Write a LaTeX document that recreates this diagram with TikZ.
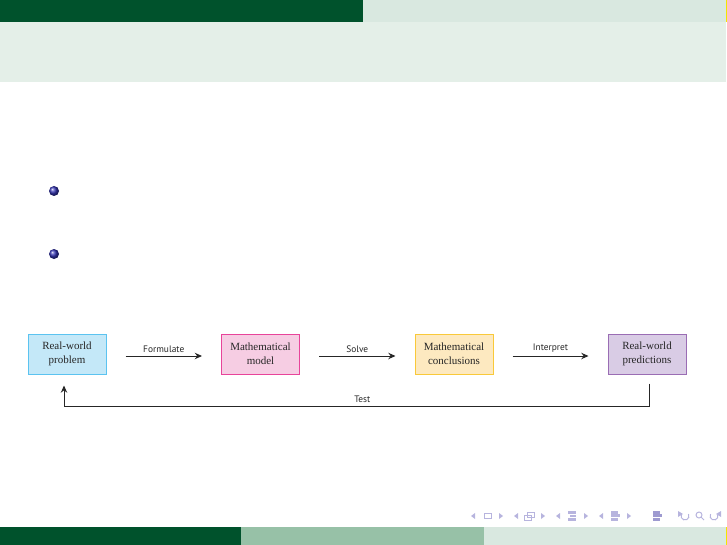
\documentclass[tikz,border=0pt]{standalone}
\usepackage{fontspec}
\setmainfont{Liberation Serif}
\newfontfamily\labelfont{PT Sans}
\usetikzlibrary{arrows.meta,shadings}
\definecolor{dgreen}{HTML}{00522C}
\definecolor{lgreen}{HTML}{D9E8E0}
\definecolor{band}{HTML}{E4EFE8}
\definecolor{mgreen}{HTML}{97C1A7}
\definecolor{stripe}{HTML}{F2E600}
\definecolor{b1fill}{HTML}{C4E8F8}\definecolor{b1line}{HTML}{5BC3F0}
\definecolor{b2fill}{HTML}{F6CDE3}\definecolor{b2line}{HTML}{E8449A}
\definecolor{b3fill}{HTML}{FDE9C0}\definecolor{b3line}{HTML}{F9C93A}
\definecolor{b4fill}{HTML}{D9CCE5}\definecolor{b4line}{HTML}{9A6DB4}
\definecolor{inkc}{HTML}{262626}
\definecolor{navc}{HTML}{B7B4DE}
\definecolor{navd}{HTML}{9E9AD0}
\begin{document}
\begin{tikzpicture}[x=0.5pt,y=-0.5pt,
  box/.style={draw, line width=0.5pt, minimum width=39pt, minimum height=20pt,
    inner sep=0pt, align=center, text=inkc, font=\fontsize{5.5}{7}\selectfont},
  flow/.style={-{Stealth[length=3.6pt,width=3.2pt]}, line width=0.5pt, draw=inkc,
    shorten <=9.5pt, shorten >=9.5pt},
  lab/.style={font=\labelfont\fontsize{4.7}{5}\selectfont, text=inkc, above, inner sep=1.6pt},
  nav/.style={fill=navc, draw=none},
  navline/.style={draw=navc, line width=0.5pt, fill=none}
]
\useasboundingbox (0,0) rectangle (727,545);
% header
\fill[dgreen] (0,0) rectangle (363,22);
\fill[lgreen] (363,0) rectangle (726,22);
\fill[stripe] (726,0) rectangle (727,22);
\fill[band] (0,22) rectangle (726,82);
% footer
\fill[dgreen] (0,527) rectangle (241,545);
\fill[mgreen] (241,527) rectangle (484,545);
\fill[lgreen] (484,527) rectangle (726,545);
\fill[stripe] (726,527) rectangle (727,545);
% bullets
\shade[ball color={rgb,1:red,0.2;green,0.2;blue,0.7}] (54,191) circle (2.5pt);
\shade[ball color={rgb,1:red,0.2;green,0.2;blue,0.7}] (54,254) circle (2.5pt);
% boxes
\node[box, fill=b1fill, draw=b1line] (b1) at (67,354) {Real-world\\problem};
\node[box, fill=b2fill, draw=b2line] (b2) at (260.5,354) {Mathematical\\model};
\node[box, fill=b3fill, draw=b3line] (b3) at (454,354) {Mathematical\\conclusions};
\node[box, fill=b4fill, draw=b4line] (b4) at (647,354) {Real-world\\predictions};
% arrows
\draw[flow] ([yshift=-1pt]b1.east) -- node[lab]{Formulate} ([yshift=-1pt]b2.west);
\draw[flow] ([yshift=-1pt]b2.east) -- node[lab]{Solve} ([yshift=-1pt]b3.west);
\draw[flow] ([yshift=-1pt]b3.east) -- node[lab]{Interpret} ([yshift=-1pt]b4.west);
\coordinate (tr) at (649,406);
\coordinate (tl) at (64,406);
\draw[flow, shorten <=4.5pt, shorten >=5.5pt] (b4.south -| tr) -- (tr) -- node[lab, pos=0.49]{Test} (tl) -- (tl |- b1.south);
% navigation symbols
\fill[nav] (475,513) -- (471,516) -- (475,519) -- cycle;
\draw[navline] (484,513.5) rectangle (491,518.5);
\fill[nav] (499,513) -- (503,516) -- (499,519) -- cycle;
\fill[nav] (518,513) -- (514,516) -- (518,519) -- cycle;
\draw[navline] (524,515) rectangle (531,520);
\draw[navline] (527,512) rectangle (534,517);
\fill[nav] (541,513) -- (545,516) -- (541,519) -- cycle;
\fill[nav] (560,513) -- (556,516) -- (560,519) -- cycle;
\fill[nav] (568,511) rectangle (576,514);
\fill[nav] (570,515) rectangle (576,517);
\fill[nav] (568,518) rectangle (576,521);
\fill[nav] (584,513) -- (588,516) -- (584,519) -- cycle;
\fill[nav] (603,513) -- (599,516) -- (603,519) -- cycle;
\fill[nav] (611,511) rectangle (618,514);
\fill[nav] (611,514) rectangle (620,517);
\fill[nav] (611,518) rectangle (618,521);
\fill[nav] (627,513) -- (631,516) -- (627,519) -- cycle;
\fill[navd] (653,511) rectangle (660,514);
\fill[navd] (653,514) rectangle (662,517);
\fill[navd] (653,518) rectangle (660,521);
% undo
\draw[navline] (685,516) ++(-160:4) arc (-160:-390:4);
\fill[nav] (678,511) -- (683,514) -- (678,517) -- cycle;
% search
\draw[navline] (699,515) circle (3);
\draw[navline] (701,517) -- (704,520);
% redo
\draw[navline] (714,516) ++(-20:4) arc (-20:210:4);
\fill[nav] (721,511) -- (716,514) -- (721,517) -- cycle;
\end{tikzpicture}
\end{document}
